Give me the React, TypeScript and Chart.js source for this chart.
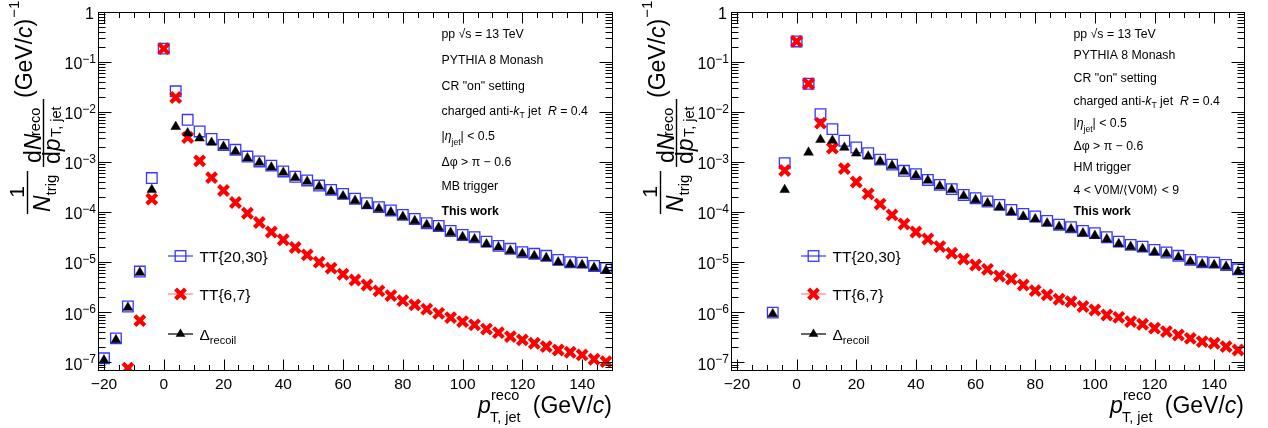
import React, { useEffect, useRef } from 'react';
import { Chart, registerables } from 'chart.js';

Chart.register(...registerables);

// ---------- data ----------
const PT_BIN_CENTRES = [
  -20, -16, -12, -8, -4, 0, 4, 8, 12, 16, 20, 24, 28, 32, 36, 40, 44, 48, 52, 56, 60,
  64, 68, 72, 76, 80, 84, 88, 92, 96, 100, 104, 108, 112, 116, 120, 124, 128, 132,
  136, 140, 144, 148,
];

// Left panel: MB trigger
const MB_TT20_30 = [
  1.2e-7, 3.0e-7, 1.3e-6, 6.5e-6, 4.8e-4, 0.185, 0.026, 7.0e-3, 4.1e-3, 2.9e-3, 2.2e-3,
  1.76e-3, 1.29e-3, 1.03e-3, 8.5e-4, 6.5e-4, 5.1e-4, 4.3e-4, 3.4e-4, 2.79e-4, 2.32e-4,
  1.85e-4, 1.51e-4, 1.26e-4, 1.08e-4, 8.8e-5, 7.3e-5, 6.0e-5, 5.3e-5, 4.2e-5, 3.5e-5,
  3.16e-5, 2.58e-5, 2.12e-5, 1.85e-5, 1.58e-5, 1.47e-5, 1.34e-5, 1.11e-5, 1.0e-5, 9.8e-6,
  8.4e-6, 7.6e-6,
];
const MB_TT6_7 = [
  null, null, 7.6e-8, 6.8e-7, 1.82e-4, 0.185, 0.0196, 3.1e-3, 1.06e-3, 4.9e-4, 2.7e-4,
  1.56e-4, 9.5e-5, 6.2e-5, 4.0e-5, 2.8e-5, 1.96e-5, 1.4e-5, 1.0e-5, 7.6e-6, 5.75e-6,
  4.4e-6, 3.5e-6, 2.67e-6, 2.15e-6, 1.7e-6, 1.4e-6, 1.15e-6, 9.5e-7, 7.8e-7, 6.5e-7,
  5.6e-7, 4.6e-7, 3.9e-7, 3.25e-7, 2.8e-7, 2.4e-7, 2.05e-7, 1.76e-7, 1.58e-7, 1.4e-7,
  1.15e-7, 1.03e-7,
];
const MB_DRECOIL = [
  1.1e-7, 2.8e-7, 1.24e-6, 6.2e-6, 2.8e-4, null, 5.1e-3, 3.8e-3, 3.0e-3, 2.46e-3, 2.05e-3,
  1.63e-3, 1.2e-3, 9.8e-4, 7.9e-4, 6.2e-4, 4.9e-4, 4.1e-4, 3.25e-4, 2.6e-4, 2.1e-4,
  1.7e-4, 1.35e-4, 1.17e-4, 1.0e-4, 8.1e-5, 6.7e-5, 5.6e-5, 4.9e-5, 3.9e-5, 3.2e-5,
  2.9e-5, 2.3e-5, 2.0e-5, 1.7e-5, 1.47e-5, 1.34e-5, 1.22e-5, 1.0e-5, 9.1e-6, 8.8e-6,
  7.8e-6, 6.8e-6,
];

// Right panel: HM trigger
const HM_TT20_30 = [
  null, null, null, 9.8e-7, 9.5e-4, 0.258, 0.0368, 9.1e-3, 4.57e-3, 2.67e-3, 1.96e-3,
  1.51e-3, 1.12e-3, 8.9e-4, 6.7e-4, 5.75e-4, 4.4e-4, 3.5e-4, 2.88e-4, 2.2e-4, 1.9e-4,
  1.63e-4, 1.4e-4, 1.11e-4, 9.2e-5, 8.2e-5, 6.7e-5, 5.6e-5, 5.0e-5, 4.2e-5, 3.8e-5,
  3.16e-5, 2.58e-5, 2.22e-5, 2.05e-5, 1.76e-5, 1.56e-5, 1.34e-5, 1.11e-5, 1.0e-5, 9.8e-6,
  8.8e-6, 7.2e-6,
];
const HM_TT6_7 = [
  null, null, null, null, 6.8e-4, 0.258, 0.0368, 6.0e-3, 1.9e-3, 7.4e-4, 4.0e-4,
  2.32e-4, 1.45e-4, 8.8e-5, 5.8e-5, 4.0e-5, 2.9e-5, 2.05e-5, 1.51e-5, 1.15e-5, 8.8e-6,
  7.2e-6, 5.3e-6, 4.6e-6, 3.5e-6, 2.7e-6, 2.22e-6, 1.82e-6, 1.63e-6, 1.3e-6, 1.11e-6,
  8.8e-7, 7.9e-7, 6.5e-7, 5.75e-7, 4.8e-7, 4.1e-7, 3.5e-7, 3.0e-7, 2.58e-7, 2.4e-7,
  2.05e-7, 1.76e-7,
];
const HM_DRECOIL = [
  null, null, null, 9.2e-7, 2.8e-4, null, 1.56e-3, 2.8e-3, 2.7e-3, 1.96e-3, 1.5e-3,
  1.3e-3, 1.03e-3, 8.5e-4, 6.5e-4, 5.4e-4, 4.3e-4, 3.3e-4, 2.8e-4, 2.1e-4, 1.76e-4,
  1.51e-4, 1.26e-4, 1.0e-4, 8.2e-5, 7.3e-5, 6.0e-5, 5.15e-5, 4.6e-5, 3.8e-5, 3.4e-5,
  2.88e-5, 2.32e-5, 2.05e-5, 1.85e-5, 1.58e-5, 1.47e-5, 1.26e-5, 1.03e-5, 9.2e-6, 8.8e-6,
  8.2e-6, 6.5e-6,
];

const X_TICK_VALUES = [-20, 0, 20, 40, 60, 80, 100, 120, 140];
const X_TICK_LABELS = ['\u221220', '0', '20', '40', '60', '80', '100', '120', '140'];
const Y_DECADES = [1, 1e-1, 1e-2, 1e-3, 1e-4, 1e-5, 1e-6, 1e-7];
const Y_DECADE_EXPONENTS = ['', '\u22121', '\u22122', '\u22123', '\u22124', '\u22125', '\u22126', '\u22127'];

const SERIES_LABELS = ['TT{20,30}', 'TT{6,7}'];

const MB_NOTES = ['pp \u221As = 13 TeV', 'PYTHIA 8 Monash', 'CR "on" setting', 'KT', 'ETA', '\u0394\u03C6 > \u03C0 \u2212 0.6', 'MB trigger', 'This work'];
const HM_NOTES = ['pp \u221As = 13 TeV', 'PYTHIA 8 Monash', 'CR "on" setting', 'KT', 'ETA', '\u0394\u03C6 > \u03C0 \u2212 0.6', 'HM trigger', '4 < V0M/\u27E8V0M\u27E9 < 9', 'This work'];

// ---------- drawing helpers ----------
const FONT = '"Liberation Sans", Arial, Helvetica, sans-serif';
const BLUE = '#3636ff';
const RED = '#ff0000';

type Seg = { t: string; size: number; it?: boolean; b?: boolean; dy?: number; adv?: boolean };

function drawSegs(ctx: CanvasRenderingContext2D, segs: Seg[], x: number, y: number) {
  let cx = x;
  for (const s of segs) {
    ctx.font = `${s.it ? 'italic ' : ''}${s.b ? 'bold ' : ''}${s.size}px ${FONT}`;
    ctx.fillText(s.t, cx, y + (s.dy || 0));
    if (s.adv !== false) cx += ctx.measureText(s.t).width;
  }
  return cx;
}

function noteSegs(key: string): Seg[] {
  const F = 12.3;
  if (key === 'KT')
    return [
      { t: 'charged anti-', size: F },
      { t: 'k', size: F, it: true },
      { t: 'T', size: 8.6, dy: 3 },
      { t: ' jet  ', size: F },
      { t: 'R', size: F, it: true },
      { t: ' = 0.4', size: F },
    ];
  if (key === 'ETA')
    return [
      { t: '|', size: F },
      { t: '\u03B7', size: F, it: true },
      { t: 'jet', size: 8.6, dy: 5 },
      { t: '| < 0.5', size: F },
    ];
  if (key === 'This work') return [{ t: key, size: F, b: true }];
  return [{ t: key, size: F }];
}

type PanelCfg = {
  noteYs: number[];
  notes: string[];
};

function makeDecor(cfg: PanelCfg) {
  return {
    id: 'rootDecor',
    afterDraw(chart: any) {
      const ctx: CanvasRenderingContext2D = chart.ctx;
      const xs = chart.scales.x;
      const ys = chart.scales.y;
      const { left: L, right: R, top: T, bottom: B } = chart.chartArea;
      ctx.save();
      ctx.strokeStyle = '#000';
      ctx.fillStyle = '#000';
      ctx.lineWidth = 1;
      // frame
      const l = Math.round(L) + 0.5, r = Math.round(R) + 0.5, t = Math.round(T) + 0.5, b = Math.round(B) + 0.5;
      ctx.strokeRect(l, t, r - l, b - t);
      // y ticks (log)
      ctx.beginPath();
      for (let e = -8; e <= 0; e++) {
        for (let m = 1; m <= 9; m++) {
          const v = m * Math.pow(10, e);
          if (v < ys.min * 0.999 || v > ys.max * 1.001) continue;
          const y = Math.round(ys.getPixelForValue(v)) + 0.5;
          const len = m === 1 ? 13 : 7;
          ctx.moveTo(l, y); ctx.lineTo(l + len, y);
          ctx.moveTo(r, y); ctx.lineTo(r - len, y);
        }
      }
      // x ticks
      for (let v = -20; v <= 150; v += 5) {
        const x = Math.round(xs.getPixelForValue(v)) + 0.5;
        const len = v % 20 === 0 ? 11 : 5.5;
        ctx.moveTo(x, b); ctx.lineTo(x, b - len);
        ctx.moveTo(x, t); ctx.lineTo(x, t + len);
      }
      ctx.stroke();

      // x tick labels
      ctx.textAlign = 'center';
      ctx.textBaseline = 'alphabetic';
      ctx.font = `15.5px ${FONT}`;
      X_TICK_VALUES.forEach((v, i) => {
        ctx.fillText(X_TICK_LABELS[i], xs.getPixelForValue(v), B + 18.5);
      });

      // y tick labels
      ctx.textAlign = 'right';
      Y_DECADES.forEach((v, i) => {
        const y = ys.getPixelForValue(v);
        const ex = Y_DECADE_EXPONENTS[i];
        if (!ex) {
          ctx.font = `16px ${FONT}`;
          ctx.fillText('1', L - 4, y + 7);
        } else {
          ctx.font = `12px ${FONT}`;
          const w = ctx.measureText(ex).width;
          ctx.fillText(ex, L - 2, y + 0.5);
          ctx.font = `16px ${FONT}`;
          ctx.fillText('10', L - 2 - w, y + 7.3);
        }
      });

      // x axis title
      ctx.textAlign = 'left';
      const px = R - 134;
      drawSegs(ctx, [{ t: 'p', size: 23, it: true }], px, B + 43);
      drawSegs(ctx, [{ t: 'reco', size: 14.5 }], px + 13, B + 30);
      drawSegs(ctx, [{ t: 'T, jet', size: 14.5 }], px + 12, B + 52);
      ctx.textAlign = 'right';
      ctx.font = `23px ${FONT}`;
      const wClose = ctx.measureText(')').width;
      ctx.fillText(')', R, B + 43);
      ctx.font = `italic 23px ${FONT}`;
      const wc = ctx.measureText('c').width;
      ctx.fillText('c', R - wClose, B + 43);
      ctx.font = `23px ${FONT}`;
      ctx.fillText('(GeV/', R - wClose - wc, B + 43);

      // y axis title (rotated)
      ctx.save();
      const ox = L - 98;
      ctx.translate(ox, 220);
      ctx.rotate(-Math.PI / 2);
      ctx.textAlign = 'center';
      ctx.font = `21px ${FONT}`;
      ctx.fillText('1', 28, 24);
      ctx.textAlign = 'left';
      ctx.lineWidth = 1.4;
      ctx.beginPath();
      ctx.moveTo(6, 27.5); ctx.lineTo(49, 27.5);
      ctx.moveTo(53, 43.5); ctx.lineTo(121, 43.5);
      ctx.stroke();
      drawSegs(ctx, [{ t: 'N', size: 23, it: true }, { t: 'trig', size: 15, dy: 6 }], 8, 49.5);
      drawSegs(ctx, [{ t: 'd', size: 23 }, { t: 'N', size: 23, it: true }], 57, 41);
      drawSegs(ctx, [{ t: 'd', size: 23 }, { t: 'p', size: 23, it: true }], 56, 60);
      drawSegs(ctx, [{ t: 'reco', size: 14.5 }], 84, 40);
      drawSegs(ctx, [{ t: 'T, jet', size: 14.5 }], 83, 61);
      const endG = drawSegs(ctx, [
        { t: '(GeV/', size: 23 },
        { t: 'c', size: 23, it: true },
        { t: ')', size: 23 },
      ], 122, 32);
      drawSegs(ctx, [{ t: '\u22121', size: 15 }], endG + 1, 19);
      ctx.restore();

      // annotations
      ctx.textAlign = 'left';
      cfg.notes.forEach((n, i) => {
        drawSegs(ctx, noteSegs(n), R - 170.5, cfg.noteYs[i] + 4.5);
      });

      // legend
      const mx = L + 82.5;
      const tx = L + 101.5;
      const ly = [256, 294, 334];
      ctx.lineWidth = 1.2;
      // TT{20,30}
      ctx.strokeStyle = BLUE;
      ctx.beginPath(); ctx.moveTo(mx - 12.5, ly[0]); ctx.lineTo(mx + 12.5, ly[0]); ctx.stroke();
      ctx.lineWidth = 1.3;
      ctx.strokeRect(mx - 5.3, ly[0] - 5.3, 10.6, 10.6);
      // TT{6,7}
      ctx.strokeStyle = '#ff8080';
      ctx.lineWidth = 1.2;
      ctx.beginPath(); ctx.moveTo(mx - 12.5, ly[1]); ctx.lineTo(mx + 12.5, ly[1]); ctx.stroke();
      ctx.strokeStyle = RED;
      ctx.lineWidth = 4.2;
      ctx.beginPath();
      ctx.moveTo(mx - 4.9, ly[1] - 4.9); ctx.lineTo(mx + 4.9, ly[1] + 4.9);
      ctx.moveTo(mx + 4.9, ly[1] - 4.9); ctx.lineTo(mx - 4.9, ly[1] + 4.9);
      ctx.stroke();
      // Delta recoil
      ctx.strokeStyle = '#000';
      ctx.lineWidth = 1.2;
      ctx.beginPath(); ctx.moveTo(mx - 12.5, ly[2]); ctx.lineTo(mx + 12.5, ly[2]); ctx.stroke();
      const tr = 5.6;
      ctx.beginPath();
      ctx.moveTo(mx, ly[2] - tr);
      ctx.lineTo(mx + tr * 0.866, ly[2] + tr / 2);
      ctx.lineTo(mx - tr * 0.866, ly[2] + tr / 2);
      ctx.closePath();
      ctx.fill();

      ctx.fillStyle = '#000';
      drawSegs(ctx, [{ t: SERIES_LABELS[0], size: 15.5 }], tx, ly[0] + 5.5);
      drawSegs(ctx, [{ t: SERIES_LABELS[1], size: 15.5 }], tx, ly[1] + 5.5);
      drawSegs(ctx, [{ t: '\u0394', size: 15.5 }, { t: 'recoil', size: 11, dy: 4 }], tx, ly[2] + 5.5);

      ctx.restore();
    },
  };
}

function toPoints(values: (number | null)[]) {
  return PT_BIN_CENTRES.map((x, i) => ({ x, y: values[i] })).filter((p) => p.y !== null && p.y !== undefined) as { x: number; y: number }[];
}

type PanelProps = {
  left: number;
  padLeft: number;
  padRight: number;
  tt2030: (number | null)[];
  tt67: (number | null)[];
  drecoil: (number | null)[];
  cfg: PanelCfg;
};

function Panel(props: PanelProps) {
  const ref = useRef<HTMLCanvasElement | null>(null);
  useEffect(() => {
    if (!ref.current) return;
    const chart = new Chart(ref.current, {
      type: 'scatter',
      data: {
        datasets: [
          {
            label: SERIES_LABELS[0],
            data: toPoints(props.tt2030),
            pointStyle: 'rect',
            pointRadius: 7.5,
            borderColor: BLUE,
            borderWidth: 1.3,
            backgroundColor: 'rgba(0,0,0,0)',
            order: 3,
          },
          {
            label: SERIES_LABELS[1],
            data: toPoints(props.tt67),
            pointStyle: 'crossRot',
            pointRadius: 7,
            borderColor: RED,
            borderWidth: 4.2,
            backgroundColor: RED,
            order: 2,
          },
          {
            label: '\u0394recoil',
            data: toPoints(props.drecoil),
            pointStyle: 'triangle',
            pointRadius: 5.6,
            borderColor: '#000',
            borderWidth: 0.5,
            backgroundColor: '#000',
            order: 1,
          },
        ],
      },
      options: {
        animation: false,
        responsive: false,
        maintainAspectRatio: false,
        events: [],
        layout: { padding: { left: props.padLeft, right: props.padRight, top: 12, bottom: 58 } },
        scales: {
          x: { type: 'linear', min: -22, max: 150, display: false },
          y: { type: 'logarithmic', min: 7e-8, max: 1, display: false },
        },
        plugins: { legend: { display: false }, tooltip: { enabled: false } },
      },
      plugins: [makeDecor(props.cfg)],
    } as any);
    return () => chart.destroy();
  }, []);
  return (
    <canvas
      ref={ref}
      width={634}
      height={428}
      style={{ position: 'absolute', left: props.left, top: 0, width: 634, height: 428 }}
    />
  );
}

export default function App() {
  return (
    <div style={{ position: 'fixed', left: 0, top: 0, width: 1268, height: 428, background: '#fff' }}>
      <Panel
        left={0}
        padLeft={98}
        padRight={22}
        tt2030={MB_TT20_30}
        tt67={MB_TT6_7}
        drecoil={MB_DRECOIL}
        cfg={{ notes: MB_NOTES, noteYs: [33.3, 59.3, 85, 110, 135, 161.7, 185.7, 210] }}
      />
      <Panel
        left={634}
        padLeft={97}
        padRight={24}
        tt2030={HM_TT20_30}
        tt67={HM_TT6_7}
        drecoil={HM_DRECOIL}
        cfg={{ notes: HM_NOTES, noteYs: [33.3, 54.3, 77.3, 100, 122.3, 145.7, 166.7, 189.3, 210.7] }}
      />
    </div>
  );
}
